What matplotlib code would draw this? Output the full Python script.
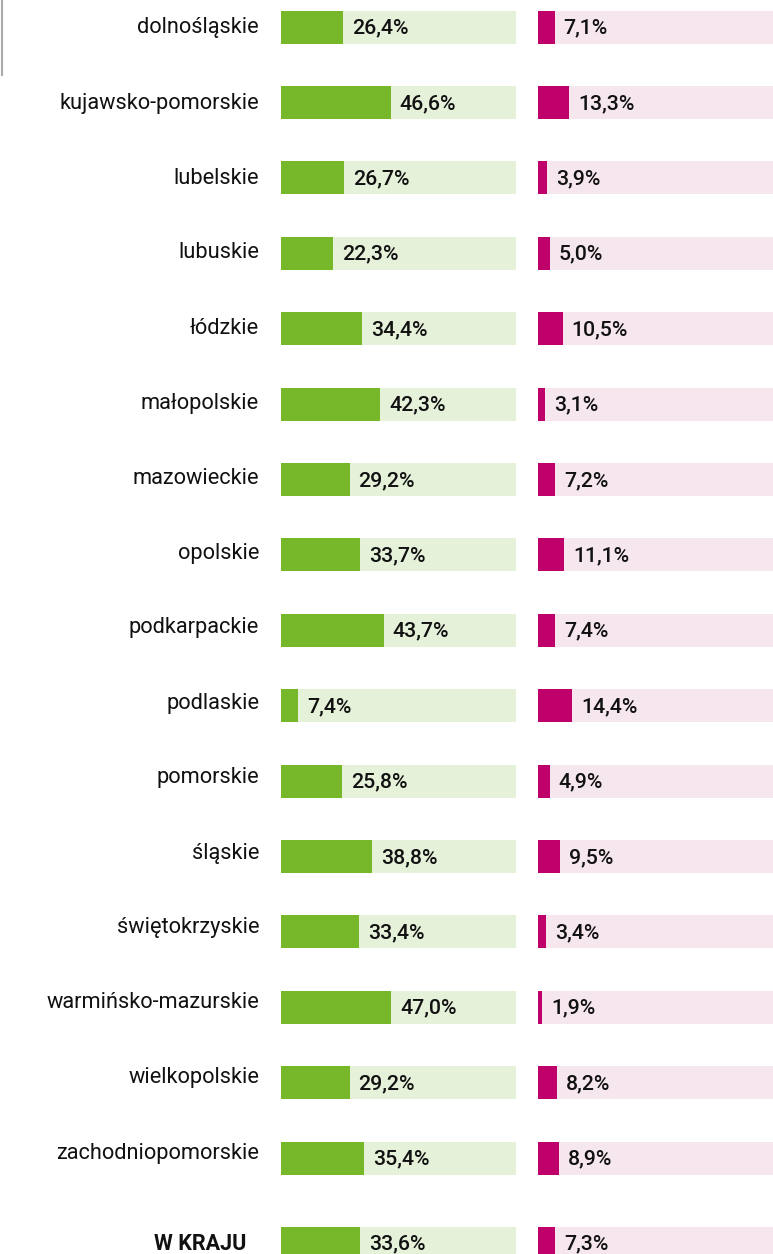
import matplotlib
matplotlib.use("Agg")
import matplotlib.pyplot as plt
from matplotlib.lines import Line2D

regions = [
    "dolnośląskie", "kujawsko-pomorskie", "lubelskie", "lubuskie", "łódzkie",
    "małopolskie", "mazowieckie", "opolskie", "podkarpackie", "podlaskie",
    "pomorskie", "śląskie", "świętokrzyskie", "warmińsko-mazurskie",
    "wielkopolskie", "zachodniopomorskie", "W KRAJU",
]
green_values = [26.4, 46.6, 26.7, 22.3, 34.4, 42.3, 29.2, 33.7, 43.7, 7.4,
                25.8, 38.8, 33.4, 47.0, 29.2, 35.4, 33.6]
pink_values = [7.1, 13.3, 3.9, 5.0, 10.5, 3.1, 7.2, 11.1, 7.4, 14.4,
               4.9, 9.5, 3.4, 1.9, 8.2, 8.9, 7.3]

W, H = 773, 1254
DPI = 100
fig = plt.figure(figsize=(W / DPI, H / DPI), dpi=DPI)
fig.patch.set_facecolor("white")

GREEN = "#76b82a"
GREEN_BG = "#e6f1da"
PINK = "#c0006a"
PINK_BG = "#f6e7ef"
FONT = "Roboto"

n = len(regions)
bar_y = [27 + i * 75.4 for i in range(n - 1)] + [1243]
label_y = [28 + i * 75.0 for i in range(n - 1)] + [1244]
bar_h = 33


def make_axes(x0, x1):
    ax = fig.add_axes([x0 / W, 0, (x1 - x0) / W, 1])
    ax.set_xlim(0, 100)
    ax.set_ylim(H, 0)
    ax.axis("off")
    return ax


ax_g = make_axes(281, 516)
ax_p = make_axes(538, 773)

for ax, vals, fg, bg in ((ax_g, green_values, GREEN, GREEN_BG),
                         (ax_p, pink_values, PINK, PINK_BG)):
    ax.barh(bar_y, [100] * n, height=bar_h, color=bg, linewidth=0)
    ax.barh(bar_y, vals, height=bar_h, color=fg, linewidth=0)
    px_per_unit = 235 / 100
    for y, v in zip(bar_y, vals):
        ax.text(v + 9 / px_per_unit, y + 1, f"{v:.1f}".replace(".", ",") + "%",
                ha="left", va="center", fontsize=15.3, fontfamily=FONT,
                fontweight="medium", color="#111111")

# region names
ax_txt = fig.add_axes([0, 0, 1, 1])
ax_txt.set_xlim(0, W)
ax_txt.set_ylim(H, 0)
ax_txt.axis("off")
for i, (name, y) in enumerate(zip(regions, label_y)):
    bold = i == n - 1
    ax_txt.text(246 if bold else 259, y, name, ha="right", va="center",
                fontsize=15.5 if bold else 15.7, fontfamily=FONT,
                fontweight="bold" if bold else "normal", color="#111111")

ax_txt.add_line(Line2D([1.5, 1.5], [0, 75], color="#aaaaaa", linewidth=1.5))

fig.savefig("out.png", dpi=DPI)
